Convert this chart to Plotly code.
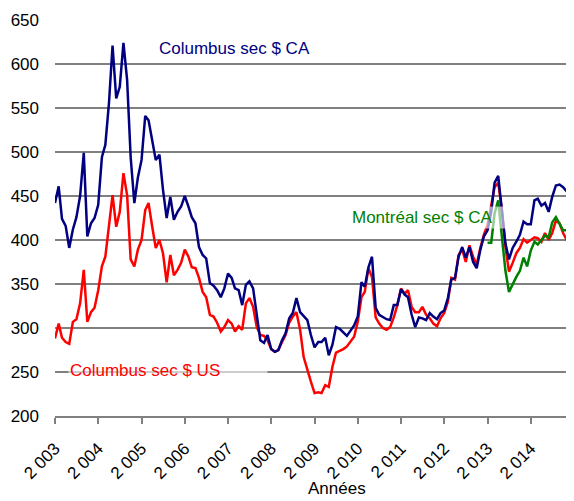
import pandas as pd
import plotly.graph_objects as go

# prix mensuels (janv. 2003 - déc. 2014)
columbus_ca = [
    442, 461, 424, 416, 391, 412, 426, 450, 499, 404, 419, 425,
    440, 494, 508, 556, 621, 561, 574, 624, 582, 494, 442, 471,
    491, 541, 536, 514, 491, 497, 457, 425, 449, 423, 432, 438,
    450, 438, 426, 419, 392, 383, 379, 351, 348, 343, 335, 345,
    362, 357, 345, 343, 326, 349, 353, 345, 315, 286, 283, 292,
    276, 273, 275, 286, 294, 311, 317, 334, 318, 313, 309, 292,
    278, 284, 284, 289, 269, 281, 301, 299, 295, 291, 297, 303,
    313, 352, 347, 369, 381, 323, 315, 312, 310, 309, 326, 326,
    344, 338, 335, 315, 301, 312, 311, 309, 317, 313, 310, 317,
    320, 334, 355, 357, 381, 392, 380, 392, 375, 368, 389, 404,
    411, 432, 465, 473, 436, 396, 378, 391, 398, 406, 421, 418,
    418, 445, 447, 439, 442, 432, 449, 462, 463, 460, 455, 458,
]
columbus_us = [
    288, 305, 289, 284, 282, 307, 310, 328, 366, 307, 318, 323,
    343, 370, 381, 415, 451, 415, 432, 476, 451, 378, 370, 389,
    400, 434, 442, 415, 391, 400, 385, 352, 383, 360, 366, 374,
    389, 381, 369, 368, 357, 341, 335, 315, 313, 306, 296, 301,
    309, 305, 296, 302, 298, 328, 334, 324, 301, 292, 291, 286,
    276, 273, 275, 284, 292, 306, 313, 318, 298, 267, 252, 239,
    226, 227, 226, 235, 233, 256, 272, 274, 276, 279, 285, 290,
    307, 335, 341, 368, 358, 312, 305, 300, 298, 301, 312, 326,
    345, 339, 343, 324, 318, 318, 324, 315, 311, 305, 302, 311,
    317, 330, 357, 355, 383, 389, 375, 394, 381, 372, 391, 406,
    417, 442, 460, 465, 435, 392, 364, 374, 385, 391, 401, 397,
    400, 403, 402, 398, 408, 400, 408, 422, 419, 408, 400, 398,
]
# Montréal à partir de janv. 2013
montreal_ca = [
    397, 397, 430, 445, 405, 365, 341, 350, 358, 365, 380, 370,
    388, 398, 395, 400, 405, 403, 420, 426, 418, 411, 411, 411,
]
annees = list(range(2003, 2015))
annees_txt = ['2 003', '2 004', '2 005', '2 006', '2 007', '2 008',
              '2 009', '2 010', '2 011', '2 012', '2 013', '2 014']

mois = pd.date_range('2003-01-01', periods=len(columbus_ca), freq='MS')
mois_mtl = pd.date_range('2013-01-01', periods=len(montreal_ca), freq='MS')

police = 'Liberation Sans, Arial, sans-serif'

fig = go.Figure()
fig.add_trace(go.Scatter(x=mois, y=columbus_us, mode='lines', name='Columbus sec $ US',
                         line=dict(color='#ff0000', width=2.5)))
fig.add_trace(go.Scatter(x=mois_mtl, y=montreal_ca, mode='lines', name='Montréal sec $ CA',
                         line=dict(color='#008000', width=2.5)))
fig.add_trace(go.Scatter(x=mois, y=columbus_ca, mode='lines', name='Columbus sec $ CA',
                         line=dict(color='#000080', width=2.5)))

# positions en pixels de l'écran -> coordonnées "paper" (zone de tracé 55..574 x 20..416)
def px(x):
    return (x - 55) / 519

def py(y):
    return (416 - y) / 396

fond = 'rgba(255,255,255,0.6)'
fig.add_annotation(x=px(157), y=py(49), xref='paper', yref='paper',
                   xanchor='left', yanchor='middle', text='Columbus sec $ CA', showarrow=False,
                   font=dict(color='#000080', size=17, family=police))
fig.add_annotation(x=px(68), y=py(370), xref='paper', yref='paper',
                   xanchor='left', yanchor='middle', text='Columbus sec $ US', showarrow=False,
                   width=196, align='left', bgcolor=fond, borderpad=1,
                   font=dict(color='#ff0000', size=17, family=police))
fig.add_annotation(x=px(350), y=py(217), xref='paper', yref='paper',
                   xanchor='left', yanchor='middle', text='Montréal sec $ CA', showarrow=False,
                   width=152, align='left', bgcolor=fond, borderpad=1,
                   font=dict(color='#008000', size=17, family=police))
fig.add_annotation(x=px(337), y=py(489), xref='paper', yref='paper',
                   text='Années', showarrow=False, yanchor='middle',
                   font=dict(color='#000000', size=17, family=police))

# la page ajoute une marge de 8 px : figure réduite d'autant
fig.update_layout(
    width=566, height=493,
    margin=dict(l=47, r=0, t=12, b=85),
    plot_bgcolor='white', paper_bgcolor='white',
    showlegend=False,
    font=dict(family=police, size=17, color='#000000'),
    xaxis=dict(
        type='date', range=['2003-01-01', '2015-01-01'],
        tickvals=[pd.Timestamp(f'{a}-01-01') for a in annees], ticktext=annees_txt,
        tickangle=-45, ticks='outside', ticklen=6, tickcolor='#808080', tickwidth=1.5,
        showgrid=False, showline=True, linecolor='#808080', linewidth=2,
        tickfont=dict(size=17), ticklabelstandoff=8,
    ),
    yaxis=dict(
        range=[200, 650], tickvals=list(range(200, 651, 50)),
        showgrid=True, gridcolor='#808080', gridwidth=2,
        zeroline=False, showline=False, ticks='', ticklabelstandoff=15,
        tickfont=dict(size=17),
    ),
)

fig.write_html('out.html')
